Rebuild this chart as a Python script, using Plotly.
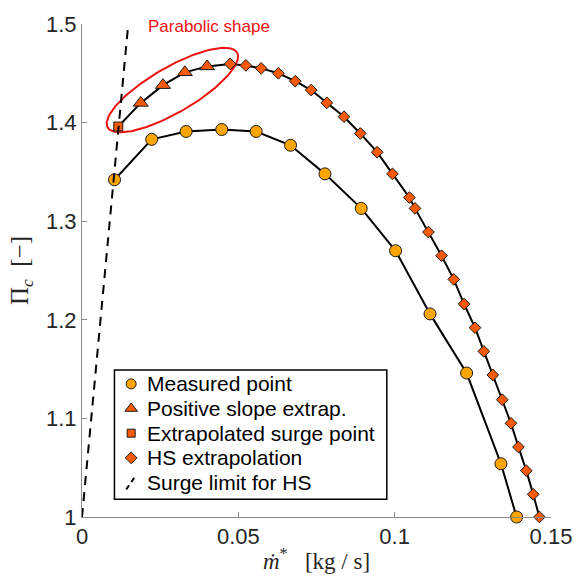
import numpy as np
import plotly.graph_objects as go

# Measured compressor speed line
measured_mflow = [0.0104, 0.0223, 0.0333, 0.0447, 0.0557, 0.0667, 0.0777,
                  0.0893, 0.1003, 0.1113, 0.1230, 0.1340, 0.1390]
measured_pr = [1.342, 1.383, 1.391, 1.393, 1.391, 1.377, 1.348,
               1.313, 1.270, 1.206, 1.146, 1.054, 1.000]

# Extrapolated surge point
surge_mflow = [0.0116]
surge_pr = [1.396]

# Positive-slope extrapolation
posslope_mflow = [0.0188, 0.0259, 0.0329, 0.0400]
posslope_pr = [1.420, 1.438, 1.451, 1.457]

# High-speed extrapolation
hs_mflow = [0.0474, 0.0524, 0.0573, 0.0628, 0.0682, 0.0733, 0.0783, 0.0838,
            0.0890, 0.0944, 0.0993, 0.1047, 0.1065, 0.1108, 0.1150, 0.1189,
            0.1222, 0.1257, 0.1285, 0.1314, 0.1344, 0.1372, 0.1396, 0.1421,
            0.1443, 0.1463]
hs_pr = [1.4595, 1.458, 1.455, 1.450, 1.442, 1.433, 1.420, 1.406,
         1.389, 1.370, 1.348, 1.324, 1.313, 1.289, 1.265, 1.241,
         1.216, 1.192, 1.168, 1.144, 1.119, 1.095, 1.071, 1.047,
         1.023, 1.000]

# Surge limit for the high-speed line
surge_limit_mflow = [0.0, 0.0148]
surge_limit_pr = [1.0, 1.5]

legend_labels = ["Measured point", "Positive slope extrap.",
                 "Extrapolated surge point", "HS extrapolation",
                 "Surge limit for HS"]

x_range = [0, 0.15]
y_range = [1.0, 1.5]
x_ticks = [0, 0.05, 0.1, 0.15]
x_ticktext = ["0", "0.05", "0.1", "0.15"]
y_ticks = [1.0, 1.1, 1.2, 1.3, 1.4, 1.5]
y_ticktext = ["1", "1.1", "1.2", "1.3", "1.4", "1.5"]

W, H = 584, 583
M = dict(l=82, r=25, t=17, b=66)
plot_w = W - M["l"] - M["r"]
plot_h = H - M["t"] - M["b"]
px_per_x = plot_w / (x_range[1] - x_range[0])
px_per_y = plot_h / (y_range[1] - y_range[0])


def paper_x(px):
    return (px - M["l"]) / plot_w


def paper_y(py):
    return (H - M["b"] - py) / plot_h


ORANGE = "#FFA500"
RED_ORANGE = "#F85A06"
EDGE = "#1a1a1a"
RED = "#EE1111"
SANS = "Liberation Sans, Arial"
SERIF = "Liberation Serif, Times New Roman"

# Highlight ellipse around the parabolic part (size given in screen pixels)
ell_cx, ell_cy = 0.0289, 1.433
ell_a, ell_b, ell_ang = 76.0, 23.0, np.deg2rad(30.0)
t = np.linspace(0, 2 * np.pi, 200)
dx = ell_a * np.cos(ell_ang) * np.cos(t) - ell_b * np.sin(ell_ang) * np.sin(t)
dy = ell_a * np.sin(ell_ang) * np.cos(t) + ell_b * np.cos(ell_ang) * np.sin(t)
ell_x = ell_cx + dx / px_per_x
ell_y = ell_cy + dy / px_per_y

fig = go.Figure()

# connecting lines
fig.add_trace(go.Scatter(x=measured_mflow, y=measured_pr, mode="lines",
                         line=dict(color="black", width=2), hoverinfo="skip"))
fig.add_trace(go.Scatter(x=surge_mflow + posslope_mflow + hs_mflow,
                         y=surge_pr + posslope_pr + hs_pr, mode="lines",
                         line=dict(color="black", width=2), hoverinfo="skip"))

fig.add_trace(go.Scatter(x=ell_x, y=ell_y, mode="lines",
                         line=dict(color=RED, width=2), hoverinfo="skip"))

measured_marker = dict(symbol="circle", color=ORANGE, line=dict(color=EDGE, width=1))
tri_marker = dict(symbol="triangle-up", color=RED_ORANGE, line=dict(color=EDGE, width=1))
sq_marker = dict(symbol="square", color=RED_ORANGE, line=dict(color=EDGE, width=1))
dia_marker = dict(symbol="diamond", color=RED_ORANGE, line=dict(color=EDGE, width=1))

fig.add_trace(go.Scatter(x=measured_mflow, y=measured_pr, mode="markers",
                         name=legend_labels[0], cliponaxis=False,
                         marker=dict(size=12, **measured_marker)))
fig.add_trace(go.Scatter(x=posslope_mflow, y=posslope_pr, mode="markers",
                         name=legend_labels[1], cliponaxis=False,
                         marker=dict(size=13, **tri_marker)))
fig.add_trace(go.Scatter(x=surge_mflow, y=surge_pr, mode="markers",
                         name=legend_labels[2], cliponaxis=False,
                         marker=dict(size=9, **sq_marker)))
fig.add_trace(go.Scatter(x=hs_mflow, y=hs_pr, mode="markers",
                         name=legend_labels[3], cliponaxis=False,
                         marker=dict(size=9, **dia_marker)))
fig.add_trace(go.Scatter(x=surge_limit_mflow, y=surge_limit_pr, mode="lines",
                         name=legend_labels[4],
                         line=dict(color="black", width=2, dash="9px,7px")))

fig.add_annotation(x=0.0406, y=1.497, xref="x", yref="y", text="Parabolic shape",
                   showarrow=False, font=dict(family=SANS, size=17, color=RED))

# ---- legend box drawn on an overlay axis spanning the plot area (0..1) ----
leg_left, leg_top, leg_right, leg_bottom = 115, 368, 392, 499
row0, row_step = 382, 25
sym_x, text_x = 132, 146

fig.add_shape(type="rect", xref="paper", yref="paper",
              x0=paper_x(leg_left), x1=paper_x(leg_right),
              y0=paper_y(leg_bottom), y1=paper_y(leg_top),
              line=dict(color="black", width=1.5), fillcolor="white", layer="below")

leg_syms = [dict(size=10, **measured_marker), dict(size=11, **tri_marker),
            dict(size=8, **sq_marker), dict(size=9, **dia_marker)]
for i, sym in enumerate(leg_syms):
    fig.add_trace(go.Scatter(x=[paper_x(sym_x)], y=[paper_y(row0 + i * row_step)],
                             xaxis="x2", yaxis="y2", mode="markers", marker=sym,
                             cliponaxis=False, hoverinfo="skip"))
ry = row0 + 4 * row_step
fig.add_trace(go.Scatter(x=[paper_x(sym_x - 5), paper_x(sym_x + 4)],
                         y=[paper_y(ry + 7), paper_y(ry - 6)],
                         xaxis="x2", yaxis="y2", mode="lines",
                         line=dict(color="black", width=2, dash="5px,4px"),
                         cliponaxis=False, hoverinfo="skip"))
for i, lab in enumerate(legend_labels):
    fig.add_annotation(x=paper_x(text_x), y=paper_y(row0 + i * row_step),
                       xref="paper", yref="paper", text=lab, showarrow=False,
                       xanchor="left", yanchor="middle",
                       font=dict(family=SANS, size=21, color="black"))

axis_common = dict(showgrid=False, zeroline=False, showline=True,
                   linecolor="#8a8a8a", linewidth=1, ticks="inside",
                   ticklen=5, tickcolor="#8a8a8a", mirror=False,
                   tickfont=dict(family=SANS, size=22, color="#262626"))

fig.update_xaxes(range=x_range, tickvals=x_ticks, ticktext=x_ticktext,
                 title=dict(text="<i>ṁ</i><sup>*</sup>   [kg / s]",
                            font=dict(family=SERIF, size=23, color="#262626"),
                            standoff=4),
                 **axis_common)
fig.update_yaxes(range=y_range, tickvals=y_ticks, ticktext=y_ticktext,
                 title=dict(text="Π<sub><i>c</i></sub>  [−]",
                            font=dict(family=SERIF, size=25, color="#262626"),
                            standoff=10),
                 **axis_common)

fig.update_layout(
    width=W, height=H, autosize=False, margin=M,
    plot_bgcolor="white", paper_bgcolor="white", showlegend=False,
    xaxis2=dict(overlaying="x", range=[0, 1], visible=False, fixedrange=True),
    yaxis2=dict(overlaying="y", range=[0, 1], visible=False, fixedrange=True),
)

fig.write_html("out.html")
